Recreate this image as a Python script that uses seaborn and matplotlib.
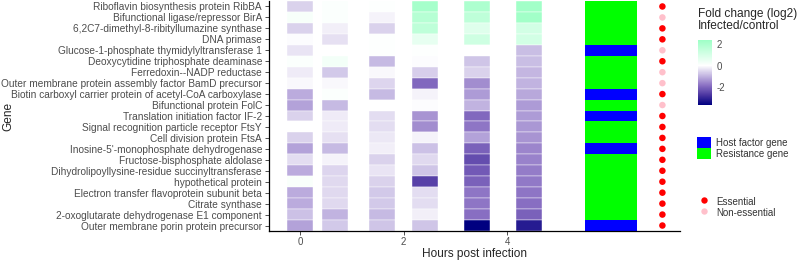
"""heatmap of fold changes for host factor / resistance genes over the infection time course"""
import matplotlib as mpl
mpl.use('Agg')
import matplotlib.pyplot as plt
from matplotlib.colors import LinearSegmentedColormap, Normalize
from matplotlib.patches import Patch
from matplotlib.lines import Line2D

import numpy as np
import pandas as pd
import seaborn as sns

# gene list, top to bottom
genes = ['Riboflavin biosynthesis protein RibBA',
         'Bifunctional ligase/repressor BirA',
         '6,2C7-dimethyl-8-ribityllumazine synthase',
         'DNA primase',
         'Glucose-1-phosphate thymidylyltransferase 1',
         'Deoxycytidine triphosphate deaminase',
         'Ferredoxin--NADP reductase',
         'Outer membrane protein assembly factor BamD precursor',
         'Biotin carboxyl carrier protein of acetyl-CoA carboxylase',
         'Bifunctional protein FolC',
         'Translation initiation factor IF-2',
         'Signal recognition particle receptor FtsY',
         'Cell division protein FtsA',
         "Inosine-5'-monophosphate dehydrogenase",
         'Fructose-bisphosphate aldolase',
         'Dihydrolipoyllysine-residue succinyltransferase',
         'hypothetical protein',
         'Electron transfer flavoprotein subunit beta',
         'Citrate synthase',
         '2-oxoglutarate dehydrogenase E1 component',
         'Outer membrane porin protein precursor']

# sampling times (hours post infection)
hours = [0, 0.67, 1.58, 2.42, 3.42, 4.42]

# log2 fold change infected/control, one list per time point
fc_t1 = [-0.6, 0.2, -0.6, -0.05, -0.35, 0.1, -0.25, -0.1, -1.1, -1.2, -0.6,
         0.0, -0.6, -1.2, -0.45, -1.1, 0.15, -1.1, -1.1, -0.8, -1.2]
fc_t2 = [0.1, 0.1, -0.2, -0.4, 0.0, 0.3, -0.7, -0.1, 0.1, -0.9, -0.25,
         -0.25, -0.4, -0.9, -0.15, -0.55, -0.5, -0.5, -0.5, -1.0, -0.7]
fc_t3 = [0.05, -0.15, -0.6, 0.05, 0.05, -0.9, -0.1, -0.55, -0.9, 0.0, -0.45,
         -0.45, -0.3, -0.2, -0.6, -0.35, -0.6, -0.7, -0.7, -0.9, -0.75]
fc_t4 = [2.2, 1.8, 1.6, 0.6, 0.05, -0.05, -0.65, -2.0, -0.15, -0.05, -1.4,
         -1.5, -0.15, -0.8, -0.5, -0.75, -2.6, -0.45, -0.45, -0.2, -0.75]
fc_t5 = [2.0, 1.6, 0.8, 1.2, 0.0, -0.75, -0.6, -1.5, -1.3, -1.0, -2.0,
         -1.8, -1.2, -2.1, -2.4, -2.2, -2.1, -1.8, -1.8, -1.9, -3.7]
fc_t6 = [2.3, 2.3, 1.1, 1.1, -0.85, -0.85, -0.95, -1.0, -1.15, -1.3, -1.3,
         -1.35, -1.4, -1.6, -1.65, -1.7, -1.75, -1.8, -1.9, -2.1, -3.2]

gene_type = ['Resistance gene'] * 21
for i in [4, 8, 10, 13, 20]:
    gene_type[i] = 'Host factor gene'

essential = ['Essential', 'Non-essential', 'Essential', 'Essential', 'Non-essential',
             'Essential', 'Non-essential', 'Non-essential', 'Essential', 'Non-essential',
             'Essential'] + ['Essential'] * 10

sns.set_theme(style='ticks')
plt.rcParams.update({'font.family': ['Liberation Sans', 'DejaVu Sans'],
                     'font.size': 7.2,
                     'axes.edgecolor': 'black',
                     'xtick.color': '#333333',
                     'ytick.color': '#333333'})

# colour scale: navy -> white -> mint
vmin, vmax = -3.7, 2.4
norm = Normalize(vmin, vmax)
stops = [(-3.7, '#000080'), (-2.775, '#4a34a0'), (-1.85, '#8c72c4'),
         (-0.925, '#c5b8e2'), (0.0, '#ffffff'), (2.4, '#9effc6')]
cmap = LinearSegmentedColormap.from_list('fc', [(float(norm(v)), c) for v, c in stops])

n = len(genes)
df = pd.DataFrame({'gene': np.tile(genes, len(hours)),
                   'row': np.tile(np.arange(n), len(hours)),
                   'hour': np.repeat(hours, n),
                   'fc': np.concatenate([fc_t1, fc_t2, fc_t3, fc_t4, fc_t5, fc_t6])})
genes_df = pd.DataFrame({'gene': genes, 'row': np.arange(n),
                         'type': gene_type, 'essential': essential})

fig = plt.figure(figsize=(7.99, 2.60), dpi=100)
ax = fig.add_axes([269 / 799, 1 - 231 / 260, 411 / 799, 230 / 260])

# heatmap tiles
ax.barh(df['row'], 0.5, left=df['hour'] - 0.25, height=1,
        color=cmap(norm(df['fc'])), edgecolor='white', linewidth=0.3)

# gene type column
type_colors = {'Host factor gene': '#0000ff', 'Resistance gene': '#00ff00'}
ax.barh(genes_df['row'], 1, left=5.5, height=1,
        color=genes_df['type'].map(type_colors), linewidth=0)

# essentiality dots
ess_colors = {'Essential': '#ff0000', 'Non-essential': '#ffc0cb'}
genes_df['x'] = 7.0
sns.scatterplot(data=genes_df, x='x', y='row', hue='essential', palette=ess_colors,
                s=22, linewidth=0, legend=False, ax=ax)

ax.set_xlim(-0.6, 7.34)
ax.set_ylim(n - 0.5, -0.5)
ax.set_yticks(range(n))
ax.set_yticklabels(genes)
ax.set_xticks([0, 2, 4])
ax.tick_params(axis='y', length=3, width=0.6, labelsize=7.3, pad=2,
               labelcolor='#4d4d4d')
ax.tick_params(axis='x', length=3, width=0.6, labelsize=7.0, pad=1.5,
               labelcolor='#4d4d4d')
ax.set_xlabel('')
ax.set_ylabel('')
fig.text(474.5 / 799, 1 - 254 / 260, 'Hours post infection', fontsize=8.6,
         ha='center', va='center')
fig.text(8 / 799, 1 - 116 / 260, 'Gene', rotation=90, fontsize=8.6, ha='center', va='center')
sns.despine(ax=ax)
for s in ['left', 'bottom']:
    ax.spines[s].set_linewidth(0.9)

# colourbar legend
cax = fig.add_axes([698 / 799, 1 - 105 / 260, 14 / 799, 65 / 260])
cb = fig.colorbar(mpl.cm.ScalarMappable(norm=norm, cmap=cmap), cax=cax, ticks=[2, 0, -2])
cb.outline.set_visible(False)
cax.tick_params(length=3, width=0.6, color='white', direction='in', labelsize=7,
                labelcolor='#4d4d4d', pad=3)
cax.set_yticklabels(['2', '0', '-2'])
fig.text(698 / 799, 1 - 8 / 260, 'Fold change (log2)\nInfected/control', fontsize=8.6,
         va='top', ha='left', linespacing=1.05)

# discrete legends
type_handles = [Patch(facecolor=c, edgecolor='none', label=k) for k, c in type_colors.items()]
fig.legend(handles=type_handles, loc='upper left',
           bbox_to_anchor=(697 / 799, 1 - 137 / 260), frameon=False,
           handlelength=1.4, handleheight=1.35, labelspacing=0, handletextpad=0.6,
           borderpad=0, borderaxespad=0, fontsize=7, labelcolor='#333333')
ess_handles = [Line2D([], [], marker='o', linestyle='none', markersize=4.6,
                      markerfacecolor=c, markeredgecolor='none', label=k)
               for k, c in ess_colors.items()]
fig.legend(handles=ess_handles, loc='upper left',
           bbox_to_anchor=(697 / 799, 1 - 196 / 260), frameon=False,
           handlelength=1.4, handleheight=1.35, labelspacing=0, handletextpad=0.6,
           borderpad=0, borderaxespad=0, fontsize=7, labelcolor='#333333')

fig.savefig('out.png', dpi=100)
